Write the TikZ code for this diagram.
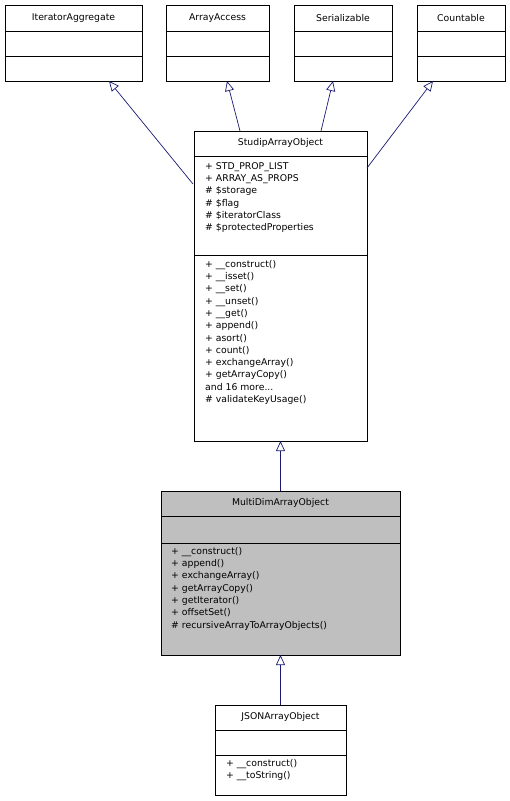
\documentclass[tikz,border=0pt]{standalone}
\usepackage{fontspec}
\setmainfont{DejaVu Sans}
\usetikzlibrary{arrows.meta}
\definecolor{edge}{HTML}{191970}
\begin{document}
\begin{tikzpicture}[x=1pt,y=-1pt,
  box/.style={draw=black,line width=0.8pt,anchor=north west,inner sep=0,minimum width=#1},
  txt/.style={font=\fontsize{9.3}{12.3}\selectfont,inner sep=0,align=left,anchor=north west},
  ttl/.style={font=\fontsize{9.3}{12.3}\selectfont,inner sep=0},
  inh/.style={draw=edge,line width=0.7pt,-{Triangle[open,width=9pt,length=10pt]}}]
\useasboundingbox (0,0) rectangle (510,801);
% top interfaces
\foreach \n/\t/\a/\b in {ia/IteratorAggregate/5/142, aa/ArrayAccess/166/269, se/Serializable/294/392, co/Countable/417/505}{
  \draw[line width=0.8pt] (\a,5) rectangle (\b,81) (\a,31) -- (\b,31) (\a,56) -- (\b,56);
  \node[ttl] (\n) at ({(\a+\b)/2},18) {\t};
}
% StudipArrayObject
\draw[line width=0.8pt] (194,131) rectangle (367,441) (194,156) -- (367,156) (194,255) -- (367,255);
\node[ttl] (sao) at (280.5,143) {StudipArrayObject};
\node[txt] (saoa) at (205,162) {+ STD\_PROP\_LIST\\+ ARRAY\_AS\_PROPS\\\# \$storage\\\# \$flag\\\# \$iteratorClass\\\# \$protectedProperties};
\node[txt] (saom) at (205,260) {+ \_\_construct()\\+ \_\_isset()\\+ \_\_set()\\+ \_\_unset()\\+ \_\_get()\\+ append()\\+ asort()\\+ count()\\+ exchangeArray()\\+ getArrayCopy()\\and 16 more...\\\# validateKeyUsage()};
% MultiDim
\draw[line width=0.8pt,fill=black!25] (161,491) rectangle (400,655);
\draw[line width=0.8pt] (161,516) -- (400,516) (161,543) -- (400,543);
\node[ttl] (md) at (280.5,503) {MultiDimArrayObject};
\node[txt] (mdm) at (171,547) {+ \_\_construct()\\+ append()\\+ exchangeArray()\\+ getArrayCopy()\\+ getIterator()\\+ offsetSet()\\\# recursiveArrayToArrayObjects()};
% JSON
\draw[line width=0.8pt] (215,705) rectangle (346,795) (215,730) -- (346,730) (215,755) -- (346,755);
\node[ttl] (js) at (280.5,717) {JSONArrayObject};
\node[txt] (jsm) at (226,759) {+ \_\_construct()\\+ \_\_toString()};
% arrows
\coordinate (s1) at (193,184); \coordinate (t1) at (109,81);
\coordinate (s2) at (240,131); \coordinate (t2) at (227,81);
\coordinate (s3) at (321,131); \coordinate (t3) at (333,81);
\coordinate (s4) at (367,168); \coordinate (t4) at (433,81);
\coordinate (s5) at (280.5,491); \coordinate (t5) at (280.5,441);
\coordinate (s6) at (280.5,705); \coordinate (t6) at (280.5,655);
\foreach \i in {1,...,6}{\draw[inh] (s\i) -- (t\i);}
\end{tikzpicture}
\end{document}
